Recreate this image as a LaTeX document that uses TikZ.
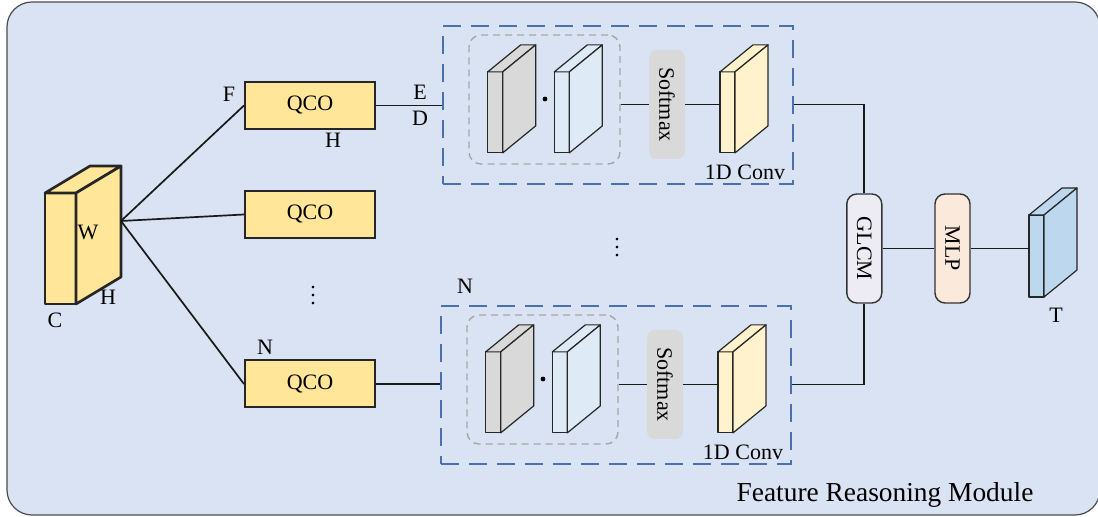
\documentclass[tikz,border=0pt]{standalone}
\usepackage{fontspec}
\setmainfont{Liberation Serif}
\usetikzlibrary{positioning, calc}

\definecolor{panelbg}{HTML}{DAE3F3}
\definecolor{qcoyellow}{HTML}{FFE699}
\definecolor{convyellow}{HTML}{FFF2CC}
\definecolor{keygray}{HTML}{D9D9D9}
\definecolor{qryblue}{HTML}{DEEBF7}
\definecolor{outblue}{HTML}{BDD7EE}
\definecolor{glcmfill}{HTML}{EDECF4}
\definecolor{mlpfill}{HTML}{FBE9DB}
\definecolor{frameblue}{HTML}{4A70B0}

% front face as a node, top and side faces drawn from its anchors
\newcommand{\drawslab}[7]{%
  \node[slabface, fill=#7, minimum width=#3*0.5pt, minimum height=#4*0.5pt] (#1) at #2 {};
  \draw[slabedge, fill=#7] (#1.north west) -- ++(#5,#6) -- ++(#3,0) -- (#1.north east) -- cycle;
  \draw[slabedge, fill=#7] (#1.north east) -- ++(#5,#6) -- ++(0,#4) -- (#1.south east) -- cycle;
}

\begin{document}
\begin{tikzpicture}[
    x=0.5pt, y=-0.5pt,
    font=\fontsize{11}{13}\selectfont,
    slabedge/.style={draw=black!85, line width=0.6pt, line join=round},
    slabface/.style={slabedge, rectangle, inner sep=0pt, outer sep=0pt},
    qco/.style={draw=black!85, line width=1pt, fill=qcoyellow, minimum width=65pt, minimum height=23.5pt, inner sep=0pt},
    frame/.style={draw=frameblue, line width=0.8pt, dash pattern=on 9pt off 5pt, minimum width=175pt, minimum height=79pt, inner sep=0pt},
    group/.style={draw=black!35, line width=0.7pt, dash pattern=on 3.5pt off 2.5pt, rounded corners=6pt, minimum width=75.5pt, minimum height=64.5pt, inner sep=0pt},
    softbox/.style={fill=keygray, rounded corners=4pt, minimum width=18pt, minimum height=54.5pt, inner sep=0pt},
    unit/.style={draw=black!80, line width=0.7pt, rounded corners=5pt, minimum width=17.5pt, minimum height=54.5pt, inner sep=0pt},
    link/.style={draw=black!90, line width=0.85pt},
    lbl/.style={inner sep=0pt},
]
\useasboundingbox (0,0) rectangle (1098,517);
\draw[draw=black!70, line width=0.6pt, fill=panelbg, rounded corners=12.5pt] (7,2) rectangle (1100,515);

% input feature map
\begin{scope}[slabedge/.style={draw=black!85, line width=1.3pt, line join=round}]
\drawslab{inmap}{(60.5,248.5)}{31}{111}{45}{-27}{qcoyellow}
\end{scope}
\coordinate (intip) at (121,221);
\node[lbl] (lblW) at (88,232) {W};
\node[lbl] (lblH) at (108,297) {H};
\node[lbl] (lblC) at (55,320) {C};

% QCO branches
\node[qco] (q1) at (310,105.5) {QCO};
\node[qco] (q2) at (310,214.5) {QCO};
\node[qco] (q3) at (310,384) {QCO};
\node[lbl] (lblF) at (229,94) {F};
\node[lbl] (lblHq) at (333,140) {H};
\node[lbl] (lblE) at (420,92) {E};
\node[lbl] (lblD) at (420,118) {D};
\node[lbl] (lblN) at (265,347) {N};
\node[lbl] (lblNb) at (465,286) {N};
\node[lbl] (dotsl) at (313,290) {$\vdots$};
\node[lbl] (dotsr) at (617,242) {$\vdots$};

\draw[link] (intip) -- (q1.west);
\draw[link] (intip) -- (q2.west);
\draw[link] (intip) -- (q3.west);

% fusion head
\node[unit, fill=glcmfill] (glcm) at (864.3,248.5) {\rotatebox{-90}{GLCM}};
\node[unit, fill=mlpfill] (mlp) at (952.5,248.5) {\rotatebox{-90}{MLP}};
\drawslab{outmap}{(1036.5,256)}{15}{82}{33}{-27}{outblue}
\node[lbl] (lblT) at (1056,315) {T};

% attention blocks
\foreach \b/\sx/\sy/\side in {a/0/0/north, b/-2/280/south} {
  \begin{scope}[shift={(\sx,\sy)}]
    \node[frame] (\b-frame) at (618,105) {};
    \node[group] (\b-group) at (544.5,99.5) {};
    \drawslab{\b-key}{(495.2,112.4)}{15}{81}{33}{-27}{keygray}
    \drawslab{\b-qry}{(561.8,112.4)}{15}{81}{33}{-27}{qryblue}
    \node[circle, fill=black, inner sep=0pt, minimum size=2.4pt] (\b-dot) at (545,99) {};
    \node[softbox] (\b-soft) at (667,104.5) {\rotatebox{-90}{Softmax}};
    \drawslab{\b-conv}{(727.5,112.4)}{15}{81}{33}{-27}{convyellow}
    \node[lbl] (\b-convlbl) at (745,172) {1D Conv};
  \end{scope}
  \draw[link] (\b-group.east |- \b-soft.west) -- (\b-soft.west);
  \draw[link] (\b-soft.east) -- (\b-soft.east -| \b-conv.west);
  \draw[link] (\b-frame.east |- \b-soft.center) -| (glcm.\side);
}

\draw[link] (q1.east) -- (q1.east -| a-frame.west);
\draw[link] (q3.east) -- (q3.east -| b-frame.west);
\draw[link] (glcm) -- (mlp);
\draw[link] (mlp.east) -- (mlp.east -| outmap.west);

\node[font=\fontsize{13.7}{16}\selectfont] (title) at (885,495) {Feature Reasoning Module};
\end{tikzpicture}
\end{document}
